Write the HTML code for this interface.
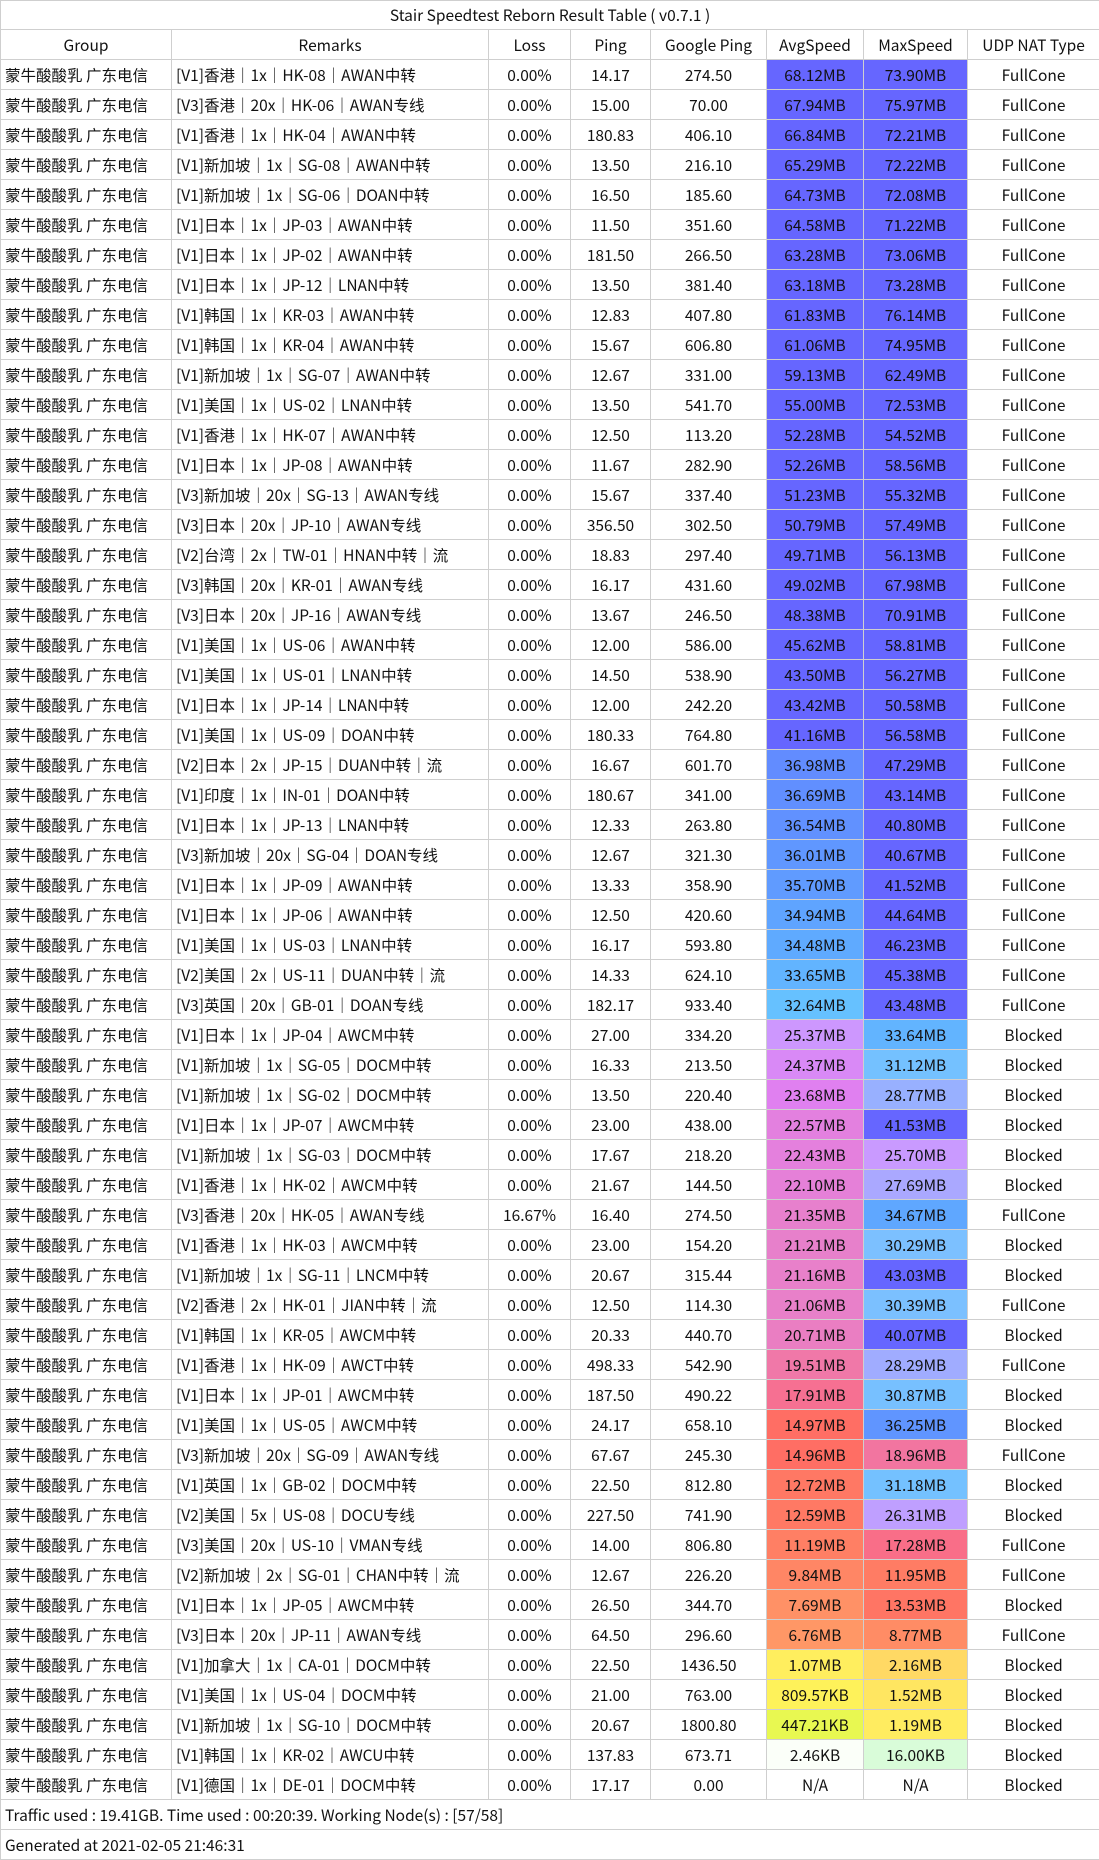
<!DOCTYPE html>
<html><head><meta charset="utf-8">
<style>
html,body{margin:0;padding:0;background:#fff;}
body{width:1099px;height:1860px;overflow:hidden;}
table{border-collapse:collapse;table-layout:fixed;width:1099px;font-family:"Noto Sans CJK SC","Liberation Sans",sans-serif;font-size:15.5px;color:#111;}
td{border:1px solid #cfcfcf;height:29px;padding:0;text-align:center;white-space:nowrap;overflow:hidden;line-height:28px;}
tr.t td{height:28px;}
td.l{text-align:left;padding-left:4px;}
</style></head><body>
<table id="tb">
<colgroup><col style="width:171px"><col style="width:317px"><col style="width:82px"><col style="width:80px"><col style="width:116px"><col style="width:97px"><col style="width:104px"><col style="width:132px"></colgroup>
<tr class="t"><td colspan="8">Stair Speedtest Reborn Result Table ( v0.7.1 )</td></tr>
<tr><td>Group</td><td>Remarks</td><td>Loss</td><td>Ping</td><td>Google Ping</td><td>AvgSpeed</td><td>MaxSpeed</td><td>UDP NAT Type</td></tr>
<tr><td class="l">蒙牛酸酸乳 广东电信</td><td class="l">[V1]香港｜1x｜HK-08｜AWAN中转</td><td>0.00%</td><td>14.17</td><td>274.50</td><td class="s">68.12MB</td><td class="s">73.90MB</td><td>FullCone</td></tr>
<tr><td class="l">蒙牛酸酸乳 广东电信</td><td class="l">[V3]香港｜20x｜HK-06｜AWAN专线</td><td>0.00%</td><td>15.00</td><td>70.00</td><td class="s">67.94MB</td><td class="s">75.97MB</td><td>FullCone</td></tr>
<tr><td class="l">蒙牛酸酸乳 广东电信</td><td class="l">[V1]香港｜1x｜HK-04｜AWAN中转</td><td>0.00%</td><td>180.83</td><td>406.10</td><td class="s">66.84MB</td><td class="s">72.21MB</td><td>FullCone</td></tr>
<tr><td class="l">蒙牛酸酸乳 广东电信</td><td class="l">[V1]新加坡｜1x｜SG-08｜AWAN中转</td><td>0.00%</td><td>13.50</td><td>216.10</td><td class="s">65.29MB</td><td class="s">72.22MB</td><td>FullCone</td></tr>
<tr><td class="l">蒙牛酸酸乳 广东电信</td><td class="l">[V1]新加坡｜1x｜SG-06｜DOAN中转</td><td>0.00%</td><td>16.50</td><td>185.60</td><td class="s">64.73MB</td><td class="s">72.08MB</td><td>FullCone</td></tr>
<tr><td class="l">蒙牛酸酸乳 广东电信</td><td class="l">[V1]日本｜1x｜JP-03｜AWAN中转</td><td>0.00%</td><td>11.50</td><td>351.60</td><td class="s">64.58MB</td><td class="s">71.22MB</td><td>FullCone</td></tr>
<tr><td class="l">蒙牛酸酸乳 广东电信</td><td class="l">[V1]日本｜1x｜JP-02｜AWAN中转</td><td>0.00%</td><td>181.50</td><td>266.50</td><td class="s">63.28MB</td><td class="s">73.06MB</td><td>FullCone</td></tr>
<tr><td class="l">蒙牛酸酸乳 广东电信</td><td class="l">[V1]日本｜1x｜JP-12｜LNAN中转</td><td>0.00%</td><td>13.50</td><td>381.40</td><td class="s">63.18MB</td><td class="s">73.28MB</td><td>FullCone</td></tr>
<tr><td class="l">蒙牛酸酸乳 广东电信</td><td class="l">[V1]韩国｜1x｜KR-03｜AWAN中转</td><td>0.00%</td><td>12.83</td><td>407.80</td><td class="s">61.83MB</td><td class="s">76.14MB</td><td>FullCone</td></tr>
<tr><td class="l">蒙牛酸酸乳 广东电信</td><td class="l">[V1]韩国｜1x｜KR-04｜AWAN中转</td><td>0.00%</td><td>15.67</td><td>606.80</td><td class="s">61.06MB</td><td class="s">74.95MB</td><td>FullCone</td></tr>
<tr><td class="l">蒙牛酸酸乳 广东电信</td><td class="l">[V1]新加坡｜1x｜SG-07｜AWAN中转</td><td>0.00%</td><td>12.67</td><td>331.00</td><td class="s">59.13MB</td><td class="s">62.49MB</td><td>FullCone</td></tr>
<tr><td class="l">蒙牛酸酸乳 广东电信</td><td class="l">[V1]美国｜1x｜US-02｜LNAN中转</td><td>0.00%</td><td>13.50</td><td>541.70</td><td class="s">55.00MB</td><td class="s">72.53MB</td><td>FullCone</td></tr>
<tr><td class="l">蒙牛酸酸乳 广东电信</td><td class="l">[V1]香港｜1x｜HK-07｜AWAN中转</td><td>0.00%</td><td>12.50</td><td>113.20</td><td class="s">52.28MB</td><td class="s">54.52MB</td><td>FullCone</td></tr>
<tr><td class="l">蒙牛酸酸乳 广东电信</td><td class="l">[V1]日本｜1x｜JP-08｜AWAN中转</td><td>0.00%</td><td>11.67</td><td>282.90</td><td class="s">52.26MB</td><td class="s">58.56MB</td><td>FullCone</td></tr>
<tr><td class="l">蒙牛酸酸乳 广东电信</td><td class="l">[V3]新加坡｜20x｜SG-13｜AWAN专线</td><td>0.00%</td><td>15.67</td><td>337.40</td><td class="s">51.23MB</td><td class="s">55.32MB</td><td>FullCone</td></tr>
<tr><td class="l">蒙牛酸酸乳 广东电信</td><td class="l">[V3]日本｜20x｜JP-10｜AWAN专线</td><td>0.00%</td><td>356.50</td><td>302.50</td><td class="s">50.79MB</td><td class="s">57.49MB</td><td>FullCone</td></tr>
<tr><td class="l">蒙牛酸酸乳 广东电信</td><td class="l">[V2]台湾｜2x｜TW-01｜HNAN中转｜流</td><td>0.00%</td><td>18.83</td><td>297.40</td><td class="s">49.71MB</td><td class="s">56.13MB</td><td>FullCone</td></tr>
<tr><td class="l">蒙牛酸酸乳 广东电信</td><td class="l">[V3]韩国｜20x｜KR-01｜AWAN专线</td><td>0.00%</td><td>16.17</td><td>431.60</td><td class="s">49.02MB</td><td class="s">67.98MB</td><td>FullCone</td></tr>
<tr><td class="l">蒙牛酸酸乳 广东电信</td><td class="l">[V3]日本｜20x｜JP-16｜AWAN专线</td><td>0.00%</td><td>13.67</td><td>246.50</td><td class="s">48.38MB</td><td class="s">70.91MB</td><td>FullCone</td></tr>
<tr><td class="l">蒙牛酸酸乳 广东电信</td><td class="l">[V1]美国｜1x｜US-06｜AWAN中转</td><td>0.00%</td><td>12.00</td><td>586.00</td><td class="s">45.62MB</td><td class="s">58.81MB</td><td>FullCone</td></tr>
<tr><td class="l">蒙牛酸酸乳 广东电信</td><td class="l">[V1]美国｜1x｜US-01｜LNAN中转</td><td>0.00%</td><td>14.50</td><td>538.90</td><td class="s">43.50MB</td><td class="s">56.27MB</td><td>FullCone</td></tr>
<tr><td class="l">蒙牛酸酸乳 广东电信</td><td class="l">[V1]日本｜1x｜JP-14｜LNAN中转</td><td>0.00%</td><td>12.00</td><td>242.20</td><td class="s">43.42MB</td><td class="s">50.58MB</td><td>FullCone</td></tr>
<tr><td class="l">蒙牛酸酸乳 广东电信</td><td class="l">[V1]美国｜1x｜US-09｜DOAN中转</td><td>0.00%</td><td>180.33</td><td>764.80</td><td class="s">41.16MB</td><td class="s">56.58MB</td><td>FullCone</td></tr>
<tr><td class="l">蒙牛酸酸乳 广东电信</td><td class="l">[V2]日本｜2x｜JP-15｜DUAN中转｜流</td><td>0.00%</td><td>16.67</td><td>601.70</td><td class="s">36.98MB</td><td class="s">47.29MB</td><td>FullCone</td></tr>
<tr><td class="l">蒙牛酸酸乳 广东电信</td><td class="l">[V1]印度｜1x｜IN-01｜DOAN中转</td><td>0.00%</td><td>180.67</td><td>341.00</td><td class="s">36.69MB</td><td class="s">43.14MB</td><td>FullCone</td></tr>
<tr><td class="l">蒙牛酸酸乳 广东电信</td><td class="l">[V1]日本｜1x｜JP-13｜LNAN中转</td><td>0.00%</td><td>12.33</td><td>263.80</td><td class="s">36.54MB</td><td class="s">40.80MB</td><td>FullCone</td></tr>
<tr><td class="l">蒙牛酸酸乳 广东电信</td><td class="l">[V3]新加坡｜20x｜SG-04｜DOAN专线</td><td>0.00%</td><td>12.67</td><td>321.30</td><td class="s">36.01MB</td><td class="s">40.67MB</td><td>FullCone</td></tr>
<tr><td class="l">蒙牛酸酸乳 广东电信</td><td class="l">[V1]日本｜1x｜JP-09｜AWAN中转</td><td>0.00%</td><td>13.33</td><td>358.90</td><td class="s">35.70MB</td><td class="s">41.52MB</td><td>FullCone</td></tr>
<tr><td class="l">蒙牛酸酸乳 广东电信</td><td class="l">[V1]日本｜1x｜JP-06｜AWAN中转</td><td>0.00%</td><td>12.50</td><td>420.60</td><td class="s">34.94MB</td><td class="s">44.64MB</td><td>FullCone</td></tr>
<tr><td class="l">蒙牛酸酸乳 广东电信</td><td class="l">[V1]美国｜1x｜US-03｜LNAN中转</td><td>0.00%</td><td>16.17</td><td>593.80</td><td class="s">34.48MB</td><td class="s">46.23MB</td><td>FullCone</td></tr>
<tr><td class="l">蒙牛酸酸乳 广东电信</td><td class="l">[V2]美国｜2x｜US-11｜DUAN中转｜流</td><td>0.00%</td><td>14.33</td><td>624.10</td><td class="s">33.65MB</td><td class="s">45.38MB</td><td>FullCone</td></tr>
<tr><td class="l">蒙牛酸酸乳 广东电信</td><td class="l">[V3]英国｜20x｜GB-01｜DOAN专线</td><td>0.00%</td><td>182.17</td><td>933.40</td><td class="s">32.64MB</td><td class="s">43.48MB</td><td>FullCone</td></tr>
<tr><td class="l">蒙牛酸酸乳 广东电信</td><td class="l">[V1]日本｜1x｜JP-04｜AWCM中转</td><td>0.00%</td><td>27.00</td><td>334.20</td><td class="s">25.37MB</td><td class="s">33.64MB</td><td>Blocked</td></tr>
<tr><td class="l">蒙牛酸酸乳 广东电信</td><td class="l">[V1]新加坡｜1x｜SG-05｜DOCM中转</td><td>0.00%</td><td>16.33</td><td>213.50</td><td class="s">24.37MB</td><td class="s">31.12MB</td><td>Blocked</td></tr>
<tr><td class="l">蒙牛酸酸乳 广东电信</td><td class="l">[V1]新加坡｜1x｜SG-02｜DOCM中转</td><td>0.00%</td><td>13.50</td><td>220.40</td><td class="s">23.68MB</td><td class="s">28.77MB</td><td>Blocked</td></tr>
<tr><td class="l">蒙牛酸酸乳 广东电信</td><td class="l">[V1]日本｜1x｜JP-07｜AWCM中转</td><td>0.00%</td><td>23.00</td><td>438.00</td><td class="s">22.57MB</td><td class="s">41.53MB</td><td>Blocked</td></tr>
<tr><td class="l">蒙牛酸酸乳 广东电信</td><td class="l">[V1]新加坡｜1x｜SG-03｜DOCM中转</td><td>0.00%</td><td>17.67</td><td>218.20</td><td class="s">22.43MB</td><td class="s">25.70MB</td><td>Blocked</td></tr>
<tr><td class="l">蒙牛酸酸乳 广东电信</td><td class="l">[V1]香港｜1x｜HK-02｜AWCM中转</td><td>0.00%</td><td>21.67</td><td>144.50</td><td class="s">22.10MB</td><td class="s">27.69MB</td><td>Blocked</td></tr>
<tr><td class="l">蒙牛酸酸乳 广东电信</td><td class="l">[V3]香港｜20x｜HK-05｜AWAN专线</td><td>16.67%</td><td>16.40</td><td>274.50</td><td class="s">21.35MB</td><td class="s">34.67MB</td><td>FullCone</td></tr>
<tr><td class="l">蒙牛酸酸乳 广东电信</td><td class="l">[V1]香港｜1x｜HK-03｜AWCM中转</td><td>0.00%</td><td>23.00</td><td>154.20</td><td class="s">21.21MB</td><td class="s">30.29MB</td><td>Blocked</td></tr>
<tr><td class="l">蒙牛酸酸乳 广东电信</td><td class="l">[V1]新加坡｜1x｜SG-11｜LNCM中转</td><td>0.00%</td><td>20.67</td><td>315.44</td><td class="s">21.16MB</td><td class="s">43.03MB</td><td>Blocked</td></tr>
<tr><td class="l">蒙牛酸酸乳 广东电信</td><td class="l">[V2]香港｜2x｜HK-01｜JIAN中转｜流</td><td>0.00%</td><td>12.50</td><td>114.30</td><td class="s">21.06MB</td><td class="s">30.39MB</td><td>FullCone</td></tr>
<tr><td class="l">蒙牛酸酸乳 广东电信</td><td class="l">[V1]韩国｜1x｜KR-05｜AWCM中转</td><td>0.00%</td><td>20.33</td><td>440.70</td><td class="s">20.71MB</td><td class="s">40.07MB</td><td>Blocked</td></tr>
<tr><td class="l">蒙牛酸酸乳 广东电信</td><td class="l">[V1]香港｜1x｜HK-09｜AWCT中转</td><td>0.00%</td><td>498.33</td><td>542.90</td><td class="s">19.51MB</td><td class="s">28.29MB</td><td>FullCone</td></tr>
<tr><td class="l">蒙牛酸酸乳 广东电信</td><td class="l">[V1]日本｜1x｜JP-01｜AWCM中转</td><td>0.00%</td><td>187.50</td><td>490.22</td><td class="s">17.91MB</td><td class="s">30.87MB</td><td>Blocked</td></tr>
<tr><td class="l">蒙牛酸酸乳 广东电信</td><td class="l">[V1]美国｜1x｜US-05｜AWCM中转</td><td>0.00%</td><td>24.17</td><td>658.10</td><td class="s">14.97MB</td><td class="s">36.25MB</td><td>Blocked</td></tr>
<tr><td class="l">蒙牛酸酸乳 广东电信</td><td class="l">[V3]新加坡｜20x｜SG-09｜AWAN专线</td><td>0.00%</td><td>67.67</td><td>245.30</td><td class="s">14.96MB</td><td class="s">18.96MB</td><td>FullCone</td></tr>
<tr><td class="l">蒙牛酸酸乳 广东电信</td><td class="l">[V1]英国｜1x｜GB-02｜DOCM中转</td><td>0.00%</td><td>22.50</td><td>812.80</td><td class="s">12.72MB</td><td class="s">31.18MB</td><td>Blocked</td></tr>
<tr><td class="l">蒙牛酸酸乳 广东电信</td><td class="l">[V2]美国｜5x｜US-08｜DOCU专线</td><td>0.00%</td><td>227.50</td><td>741.90</td><td class="s">12.59MB</td><td class="s">26.31MB</td><td>Blocked</td></tr>
<tr><td class="l">蒙牛酸酸乳 广东电信</td><td class="l">[V3]美国｜20x｜US-10｜VMAN专线</td><td>0.00%</td><td>14.00</td><td>806.80</td><td class="s">11.19MB</td><td class="s">17.28MB</td><td>FullCone</td></tr>
<tr><td class="l">蒙牛酸酸乳 广东电信</td><td class="l">[V2]新加坡｜2x｜SG-01｜CHAN中转｜流</td><td>0.00%</td><td>12.67</td><td>226.20</td><td class="s">9.84MB</td><td class="s">11.95MB</td><td>FullCone</td></tr>
<tr><td class="l">蒙牛酸酸乳 广东电信</td><td class="l">[V1]日本｜1x｜JP-05｜AWCM中转</td><td>0.00%</td><td>26.50</td><td>344.70</td><td class="s">7.69MB</td><td class="s">13.53MB</td><td>Blocked</td></tr>
<tr><td class="l">蒙牛酸酸乳 广东电信</td><td class="l">[V3]日本｜20x｜JP-11｜AWAN专线</td><td>0.00%</td><td>64.50</td><td>296.60</td><td class="s">6.76MB</td><td class="s">8.77MB</td><td>FullCone</td></tr>
<tr><td class="l">蒙牛酸酸乳 广东电信</td><td class="l">[V1]加拿大｜1x｜CA-01｜DOCM中转</td><td>0.00%</td><td>22.50</td><td>1436.50</td><td class="s">1.07MB</td><td class="s">2.16MB</td><td>Blocked</td></tr>
<tr><td class="l">蒙牛酸酸乳 广东电信</td><td class="l">[V1]美国｜1x｜US-04｜DOCM中转</td><td>0.00%</td><td>21.00</td><td>763.00</td><td class="s">809.57KB</td><td class="s">1.52MB</td><td>Blocked</td></tr>
<tr><td class="l">蒙牛酸酸乳 广东电信</td><td class="l">[V1]新加坡｜1x｜SG-10｜DOCM中转</td><td>0.00%</td><td>20.67</td><td>1800.80</td><td class="s">447.21KB</td><td class="s">1.19MB</td><td>Blocked</td></tr>
<tr><td class="l">蒙牛酸酸乳 广东电信</td><td class="l">[V1]韩国｜1x｜KR-02｜AWCU中转</td><td>0.00%</td><td>137.83</td><td>673.71</td><td class="s">2.46KB</td><td class="s">16.00KB</td><td>Blocked</td></tr>
<tr><td class="l">蒙牛酸酸乳 广东电信</td><td class="l">[V1]德国｜1x｜DE-01｜DOCM中转</td><td>0.00%</td><td>17.17</td><td>0.00</td><td class="s">N/A</td><td class="s">N/A</td><td>Blocked</td></tr>
<tr><td class="l" colspan="8">Traffic used : 19.41GB. Time used : 00:20:39. Working Node(s) : [57/58]</td></tr>
<tr><td class="l" colspan="8">Generated at 2021-02-05 21:46:31</td></tr>
</table>
<script>
var stops=[[0,[255,255,255]],[0.003,[250,255,248]],[0.016,[216,252,216]],[0.44,[232,248,80]],[0.8,[255,242,90]],[1.2,[255,236,96]],[2.2,[255,216,100]],[6.8,[255,150,102]],[11,[255,128,100]],[15,[255,110,100]],[17.5,[248,110,140]],[19.5,[240,120,168]],[21,[232,128,200]],[23.7,[224,128,240]],[25.5,[204,153,255]],[27.7,[170,168,255]],[28.8,[152,176,255]],[30.3,[124,192,255]],[32.6,[102,194,255]],[34.6,[95,168,255]],[36.3,[96,148,255]],[38,[102,128,255]],[40,[102,102,255]],[1000,[102,102,255]]];
function col(v){for(var i=1;i<stops.length;i++){if(v<=stops[i][0]){var a=stops[i-1],b=stops[i],t=(v-a[0])/(b[0]-a[0]);return 'rgb('+a[1].map(function(c,k){return Math.round(c+(b[1][k]-c)*t)}).join(',')+')';}}return 'rgb(102,102,255)';}
document.querySelectorAll('td.s').forEach(function(td){var s=td.textContent,v;if(s=='N/A')return;v=parseFloat(s);if(s.indexOf('KB')>0)v/=1024;td.style.background=col(v);});
</script>
</body></html>
